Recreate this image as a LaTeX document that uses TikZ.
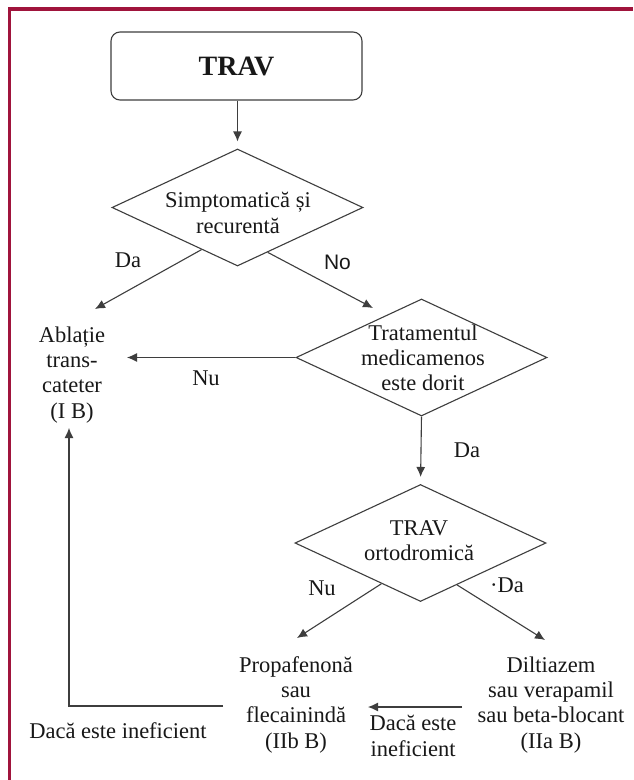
\documentclass[tikz,border=0pt]{standalone}
\usepackage{fontspec}
\setmainfont{Liberation Serif}
\newfontfamily\sansf{Liberation Sans}
\usetikzlibrary{shapes.geometric,arrows.meta,calc}
\definecolor{framecol}{RGB}{160,20,60}
\definecolor{lncol}{RGB}{62,62,62}
\definecolor{txcol}{RGB}{24,24,24}
\begin{document}
\begin{tikzpicture}[x=1pt,y=-1pt,
  txt/.style={font=\fontsize{22.5}{25.3}\selectfont, text=txcol, align=center, inner sep=0pt},
  lbl/.style={font=\fontsize{22.5}{25.3}\selectfont, text=txcol, inner sep=0pt, anchor=base},
  dia/.style={draw=lncol, line width=1.1pt, diamond, minimum width=251pt, minimum height=117pt, inner sep=0pt},
  startbox/.style={draw=lncol, line width=1.1pt, rounded corners=9pt, minimum width=251pt, minimum height=68pt, inner sep=0pt, text=txcol, font=\fontsize{28}{30}\selectfont\bfseries},
  arr/.style={draw=lncol, line width=1.1pt, -{Latex[length=10pt,width=9pt]}},
  plain/.style={draw=lncol, line width=1.1pt}
]
\useasboundingbox (0,0) rectangle (633,780);
\fill[white] (0,0) rectangle (633,780);
\draw[framecol, line width=3.5pt, line join=miter] (9.5,780) -- (9.5,9) -- (633,9);

% nodes
\node[startbox] (trav) at (236.5,66) {TRAV};
\node[dia] (d1) at (237.5,207.5) {};
\node[txt] (t1) at (238,213) {Simptomatică și\\recurentă};
\node[dia] (d2) at (421.5,357.5) {};
\node[txt] (t2) at (423,357.6) {Tratamentul\\medicamenos\\este dorit};
\node[dia] (d3) at (420.5,543) {};
\node[txt] (t3) at (419,541) {TRAV\\ortodromică};
\node[txt] (abl) at (72,374.7) {Ablație\\trans-\\cateter\\(I B)};
\node[txt] (prop) at (296,704.7) {Propafenonă\\sau\\flecainindă\\(IIb B)};
\node[txt] (dil) at (551,704.7) {Diltiazem\\sau verapamil\\sau beta-blocant\\(IIa B)};

% labels
\node[lbl] (lda1) at (128,267) {Da};
\node[lbl, font=\sansf\fontsize{21}{24}\selectfont] (lno) at (337.5,269) {No};
\node[lbl] (lnu1) at (206,385) {Nu};
\node[lbl] (lda2) at (467,457) {Da};
\node[lbl] (lnu2) at (322,595) {Nu};
\node[lbl] (lda3) at (507,592) {·Da};
\node[lbl] (lineff) at (118,738) {Dacă este ineficient};
\node[txt] (mineff) at (413,736) {Dacă este\\ineficient};

% connector end points
\coordinate (e1) at (95,309);
\coordinate (e2) at (373,308);
\coordinate (e3) at (127,357.5);
\coordinate (e4) at (297,638);
\coordinate (e5) at (545,640);
\coordinate (m1) at (462,707);
\coordinate (m2) at (368,707);
\coordinate (f1) at (223,706);
\coordinate (f2) at (69,706);
\coordinate (f3) at (69,428);

% connectors
\draw[arr, shorten >=7pt] (trav.south -| d1.north) -- (d1.north);
\draw[arr] ($(d1.west)!0.714!(d1.south)$) -- (e1);
\draw[arr] ($(d1.south)!0.24!(d1.east)$) -- (e2);
\draw[arr] (d2.west) -- (e3);
\draw[arr, shorten >=7pt] (d2.south) -- (d3.north);
\draw[arr] ($(d3.west)!0.69!(d3.south)$) -- (e4);
\draw[arr] ($(d3.south)!0.29!(d3.east)$) -- (e5);
\draw[arr] (m1) -- (m2);
\draw[arr] (f1) -- (f2) -- (f3);
\end{tikzpicture}
\end{document}
